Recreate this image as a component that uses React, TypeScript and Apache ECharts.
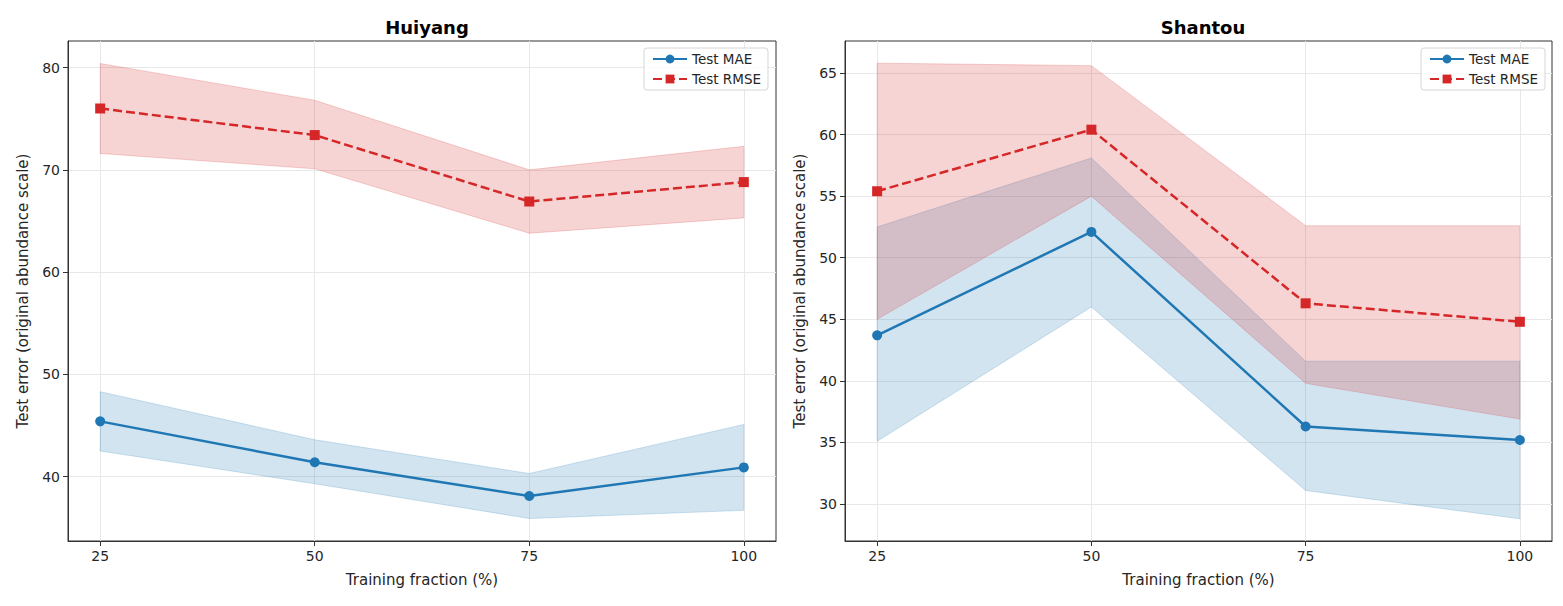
import React, { useEffect, useRef } from 'react';
import * as echarts from 'echarts';

const fractions = [25, 50, 75, 100];
const xTicks = [25, 50, 75, 100];

const huiyangMae = [45.4, 41.4, 38.1, 40.9];
const huiyangMaeLow = [42.5, 39.3, 35.9, 36.7];
const huiyangMaeHigh = [48.3, 43.6, 40.3, 45.1];
const huiyangRmse = [76.0, 73.4, 66.9, 68.8];
const huiyangRmseLow = [71.6, 70.1, 63.8, 65.3];
const huiyangRmseHigh = [80.4, 76.8, 70.0, 72.3];
const huiyangYTicks = [40, 50, 60, 70, 80];

const shantouMae = [43.7, 52.1, 36.3, 35.2];
const shantouMaeLow = [35.1, 46.0, 31.1, 28.8];
const shantouMaeHigh = [52.5, 58.1, 41.6, 41.6];
const shantouRmse = [55.4, 60.4, 46.3, 44.8];
const shantouRmseLow = [45.0, 55.0, 39.8, 36.9];
const shantouRmseHigh = [65.8, 65.6, 52.6, 52.6];
const shantouYTicks = [30, 35, 40, 45, 50, 55, 60, 65];

const BLUE = '#1f77b4';
const RED = '#d62728';
const FONT = 'DejaVu Sans';
const TEXT = '#262626';

const band = (idx: number, low: number[], high: number[], color: string) => ({
  type: 'custom',
  xAxisIndex: idx,
  yAxisIndex: idx,
  silent: true,
  z: 1,
  data: fractions.map((x, i) => [x, high[i]]),
  renderItem: (params: any, api: any) => {
    if (params.dataIndex !== 0) return null;
    const top = fractions.map((x, i) => api.coord([x, high[i]]));
    const bottom = fractions.map((x, i) => api.coord([x, low[i]])).reverse();
    return {
      type: 'polygon',
      shape: { points: [...top, ...bottom] },
      style: { fill: color, stroke: color, lineWidth: 1 }
    };
  }
});

const lines = (idx: number, mae: number[], rmse: number[]) => [
  {
    name: 'Test MAE',
    type: 'line',
    xAxisIndex: idx,
    yAxisIndex: idx,
    z: 3,
    data: fractions.map((x, i) => [x, mae[i]]),
    symbol: 'circle',
    symbolSize: 10,
    itemStyle: { color: BLUE },
    lineStyle: { color: BLUE, width: 2.5 }
  },
  {
    name: 'Test RMSE',
    type: 'line',
    xAxisIndex: idx,
    yAxisIndex: idx,
    z: 3,
    data: fractions.map((x, i) => [x, rmse[i]]),
    symbol: 'rect',
    symbolSize: 10,
    itemStyle: { color: RED },
    lineStyle: { color: RED, width: 2.5, type: [9, 4] }
  }
];

const xAxis = (idx: number) => ({
  type: 'value',
  gridIndex: idx,
  min: 21.25,
  max: 103.75,
  name: 'Training fraction (%)',
  nameLocation: 'middle',
  nameGap: 31,
  nameTextStyle: { fontFamily: FONT, fontSize: 15, color: TEXT },
  axisLine: { show: true, lineStyle: { color: '#333', width: 1 } },
  axisTick: { show: true, length: 5, customValues: xTicks, lineStyle: { color: '#333' } },
  axisLabel: { customValues: xTicks, margin: 8, fontFamily: FONT, fontSize: 14, color: TEXT },
  splitLine: { show: true, lineStyle: { color: '#e8e8e8', width: 1 } }
});

const yAxis = (idx: number, min: number, max: number, ticks: number[]) => ({
  type: 'value',
  gridIndex: idx,
  min,
  max,
  name: 'Test error (original abundance scale)',
  nameLocation: 'middle',
  nameGap: 38,
  nameTextStyle: { fontFamily: FONT, fontSize: 15, color: TEXT },
  axisLine: { show: true, lineStyle: { color: '#333', width: 1 } },
  axisTick: { show: true, length: 5, customValues: ticks, lineStyle: { color: '#333' } },
  axisLabel: { customValues: ticks, margin: 8, fontFamily: FONT, fontSize: 14, color: TEXT },
  splitLine: { show: true, lineStyle: { color: '#e8e8e8', width: 1 } }
});

const legend = (right: number) => ({
  right,
  top: 48,
  orient: 'vertical',
  data: ['Test MAE', 'Test RMSE'],
  itemWidth: 34,
  itemHeight: 11,
  itemGap: 6,
  padding: [4, 7, 4, 8],
  borderColor: '#d6d6d6',
  borderWidth: 1,
  borderRadius: 3,
  backgroundColor: 'rgba(255,255,255,0.8)',
  selectedMode: false,
  textStyle: { fontFamily: FONT, fontSize: 13.5, color: TEXT }
});

const App: React.FC = () => {
  const chartRef = useRef<HTMLDivElement>(null);

  useEffect(() => {
    if (!chartRef.current) return;
    const chart = echarts.init(chartRef.current, null, { renderer: 'svg' });

    const option = {
      animation: false,
      backgroundColor: '#fff',
      title: [
        {
          text: 'Huiyang',
          left: 422,
          top: 13,
          textAlign: 'center',
          textStyle: { fontFamily: FONT, fontSize: 18, fontWeight: 'bold', color: '#000' }
        },
        {
          text: 'Shantou',
          left: 1198,
          top: 13,
          textAlign: 'center',
          textStyle: { fontFamily: FONT, fontSize: 18, fontWeight: 'bold', color: '#000' }
        }
      ],
      legend: [legend(795), legend(18)],
      grid: [
        { left: 68, top: 41, width: 708, height: 500, show: true, borderColor: '#333', borderWidth: 1 },
        { left: 845, top: 41, width: 707, height: 500, show: true, borderColor: '#333', borderWidth: 1 }
      ],
      xAxis: [xAxis(0), xAxis(1)],
      yAxis: [yAxis(0, 33.7, 82.6, huiyangYTicks), yAxis(1, 27.0, 67.6, shantouYTicks)],
      series: [
        band(0, huiyangMaeLow, huiyangMaeHigh, 'rgba(31,119,180,0.2)'),
        band(0, huiyangRmseLow, huiyangRmseHigh, 'rgba(214,39,40,0.2)'),
        ...lines(0, huiyangMae, huiyangRmse),
        band(1, shantouMaeLow, shantouMaeHigh, 'rgba(31,119,180,0.2)'),
        band(1, shantouRmseLow, shantouRmseHigh, 'rgba(214,39,40,0.2)'),
        ...lines(1, shantouMae, shantouRmse)
      ]
    };

    chart.setOption(option);

    return () => {
      chart.dispose();
    };
  }, []);

  return (
    <div
      ref={chartRef}
      style={{ position: 'fixed', left: 0, top: 0, width: 1563, height: 606 }}
    />
  );
};

export default App;
